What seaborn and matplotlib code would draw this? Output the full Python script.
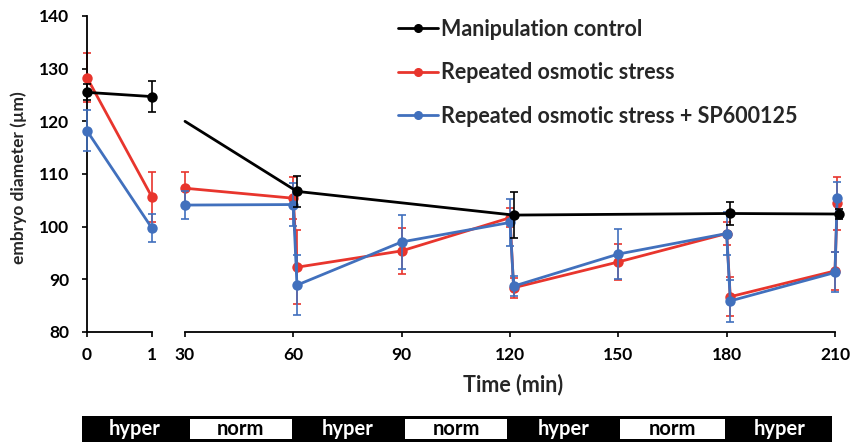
import numpy as np
import pandas as pd
import matplotlib
matplotlib.use("Agg")
import matplotlib.pyplot as plt
import seaborn as sns
from matplotlib.lines import Line2D

sns.set_theme(style="ticks")
plt.rcParams["font.family"] = ["Lato", "DejaVu Sans"]
plt.rcParams["font.weight"] = "bold"

# ---------------- data ----------------
series = ["Manipulation control", "Repeated osmotic stress",
          "Repeated osmotic stress + SP600125"]
colors = ["#000000", "#e8352d", "#4170bd"]

early_time = [0, 1]
ctrl_early = [125.5, 124.7]
ctrl_early_err = [1.5, 3.0]
ros_early = [128.3, 105.6]
ros_early_err = [4.6, 4.8]
sp_early = [118.2, 99.7]
sp_early_err = [3.9, 2.7]

ctrl_time = [30, 61, 121, 181, 211]
ctrl_val = [120.0, 106.7, 102.2, 102.5, 102.4]
ctrl_err = [np.nan, 2.9, 4.3, 2.1, 1.0]

stress_time = [30, 60, 61, 90, 120, 121, 150, 180, 181, 210, 210.6]
ros_val = [107.3, 105.4, 92.3, 95.4, 101.7, 88.4, 93.3, 98.7, 86.7, 91.6, 104.4]
ros_err = [3.1, 4.0, 7.0, 4.3, 1.8, 1.9, 3.5, 2.1, 3.7, 3.6, 5.0]
sp_val = [104.1, 104.2, 88.9, 97.1, 100.8, 88.7, 94.8, 98.7, 85.9, 91.3, 105.4]
sp_err = [2.6, 4.0, 5.7, 5.1, 4.5, 1.9, 4.8, 4.0, 4.0, 3.8, 3.0]

early_ticks = [0, 1]
late_ticks = [30, 60, 90, 120, 150, 180, 210]
y_ticks = [80, 90, 100, 110, 120, 130, 140]

phase_labels = ["hyper", "norm", "hyper", "norm", "hyper", "norm", "hyper"]
phase_edges = [1.5, 30.8, 60, 90.3, 119.8, 150, 180, 209.2]

# ---------------- figure ----------------
W, H = 852, 447
fig = plt.figure(figsize=(W / 100, H / 100), dpi=100)
fig.patch.set_facecolor("white")

y0 = 332  # pixel of 80
y1 = 16   # pixel of 140
axL = fig.add_axes([87 / W, (H - y0) / H, 65 / W, (y0 - y1) / H])
px_per_min = (835 - 185) / 180
axR = fig.add_axes([185 / W, (H - y0) / H, (650 + px_per_min) / W, (y0 - y1) / H])


def draw(ax, t, v, e, color, z, markevery=None):
    df = pd.DataFrame({"t": t, "v": v})
    kw = {}
    if markevery is not None:
        kw["markevery"] = markevery
    ax.errorbar(t, v, yerr=e, fmt="none", ecolor=color, elinewidth=1.2,
                capsize=2.6, capthick=1.2, zorder=z - 0.5)
    sns.lineplot(data=df, x="t", y="v", ax=ax, color=color, marker="o",
                 markersize=7.5, markeredgewidth=0, markeredgecolor=color,
                 linewidth=2.0, estimator=None, sort=False, zorder=z, **kw)


draw(axL, early_time, ros_early, ros_early_err, colors[1], 3)
draw(axL, early_time, sp_early, sp_early_err, colors[2], 4)
draw(axL, early_time, ctrl_early, ctrl_early_err, colors[0], 5)

draw(axR, stress_time, ros_val, ros_err, colors[1], 3)
draw(axR, stress_time, sp_val, sp_err, colors[2], 4)
draw(axR, ctrl_time, ctrl_val, ctrl_err, colors[0], 5,
     markevery=list(range(1, len(ctrl_time))))

for ax in (axL, axR):
    ax.set_ylim(80, 140)
    ax.set_xlabel("")
    ax.set_ylabel("")
    ax.patch.set_alpha(0)
    for a in ax.get_children():
        try:
            a.set_clip_on(False)
        except Exception:
            pass
    for s in ("top", "right"):
        ax.spines[s].set_visible(False)
    for s in ("left", "bottom"):
        ax.spines[s].set_color("black")
        ax.spines[s].set_linewidth(1.3)
    ax.tick_params(axis="both", direction="out", length=3.8, width=1.2,
                   color="black", labelsize=12.5, labelcolor="black")

axL.set_xlim(0, 1)
axL.set_xticks(early_ticks)
axL.set_yticks(y_ticks)
axL.tick_params(axis="x", pad=7)
axL.tick_params(axis="y", pad=9.2)
axR.set_xlim(30, 211)
axR.spines["bottom"].set_bounds(30, 210)
axR.set_xticks(late_ticks)
axR.spines["left"].set_visible(False)
axR.set_yticks([])
axR.tick_params(axis="x", pad=7)
for lab in axL.get_xticklabels() + axL.get_yticklabels() + axR.get_xticklabels():
    lab.set_fontweight("bold")

fig.text(19 / W, 1 - 178 / H, "embryo diameter (µm)", rotation=90,
         ha="center", va="center", fontsize=12.5, fontweight="bold")
fig.text(513 / W, 1 - 385 / H, "Time (min)", ha="center", va="center",
         fontsize=15.5, fontweight="bold")

handles = [Line2D([], [], color=c, marker="o", markersize=5.5, linewidth=2.0)
           for c in colors]
fig.legend(handles, series, loc="upper left",
           bbox_to_anchor=(389.5 / W, 1 - 10 / H), frameon=False,
           prop={"size": 15.5, "weight": "bold"}, handlelength=1.86,
           handletextpad=0.15, labelspacing=1.05, borderaxespad=0)

# ---------------- phase bar ----------------
axB = fig.add_axes([185 / W, (H - 442) / H, (650 + px_per_min) / W, 26 / H])
axB.set_xlim(30, 211)
axB.set_ylim(-0.5, 0.5)
axB.axis("off")
starts = np.array(phase_edges[:-1])
ends = np.array(phase_edges[1:])
axB.barh(0, phase_edges[-1] - phase_edges[0], left=phase_edges[0], height=1,
         color="black", edgecolor="none", clip_on=False)
for s, e, lab in zip(starts, ends, phase_labels):
    if lab == "norm":
        axB.barh(0, (e - s) - 1.0, left=s + 0.5, height=0.8, color="white",
                 edgecolor="none", clip_on=False, zorder=3)
    axB.text((s + e) / 2, 0, lab, ha="center", va="center", fontsize=14.5,
             fontweight="bold", color="white" if lab == "hyper" else "black",
             zorder=4, clip_on=False)

fig.savefig("out.png", dpi=100)
